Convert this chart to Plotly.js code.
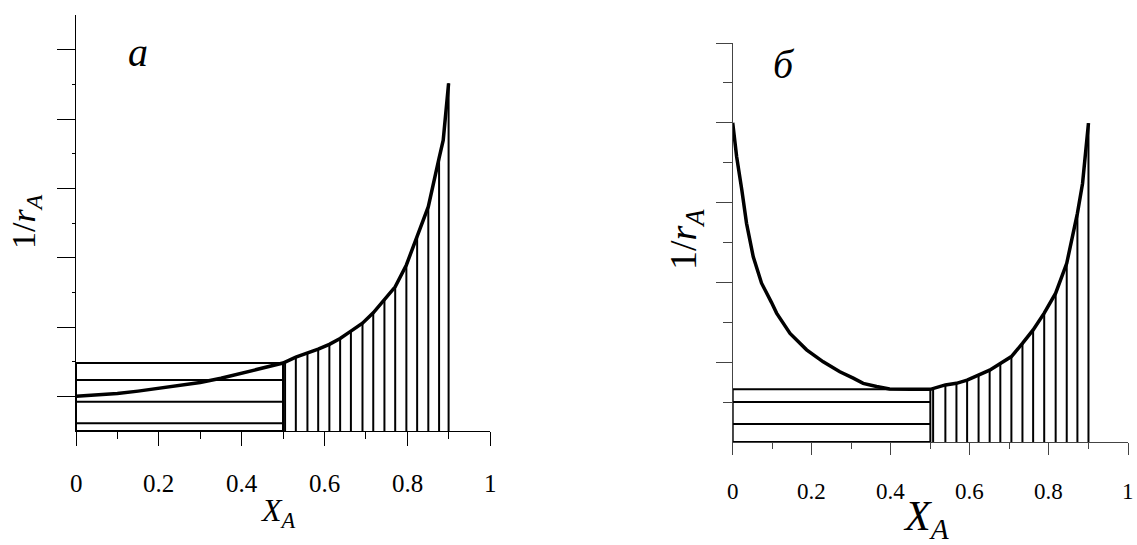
<!DOCTYPE html>
<html>
<head>
<meta charset="utf-8">
<script src="https://cdn.plot.ly/plotly-3.0.1.min.js"></script>
<style>html,body{margin:0;padding:0;background:#fff;}#chart{width:1137px;height:545px;}</style>
</head>
<body>
<div id="chart"></div>
<script>
// ---------- data ----------
const xTickVals = [0, 0.2, 0.4, 0.6, 0.8, 1];
const xTickText = ['0', '0.2', '0.4', '0.6', '0.8', '1'];
const xMinorVals = [0.1, 0.3, 0.5, 0.7, 0.9];

// panel а : 1/rA vs XA (curve)
const curveAX = [0, 0.05, 0.1, 0.15, 0.2, 0.25, 0.3, 0.35, 0.4, 0.45, 0.5,
                 0.531, 0.559, 0.585, 0.612, 0.638, 0.664, 0.692, 0.718, 0.745,
                 0.771, 0.798, 0.824, 0.851, 0.877, 0.887, 0.9];
const curveAY = [1.0, 1.03, 1.08, 1.15, 1.24, 1.32, 1.40, 1.52, 1.66, 1.81, 1.96,
                 2.13, 2.24, 2.36, 2.50, 2.67, 2.88, 3.11, 3.41, 3.78,
                 4.16, 4.79, 5.60, 6.47, 7.87, 8.39, 10.03];
// panel а : vertical hatch (plug flow area)
const hatchAX = [0.505, 0.531, 0.559, 0.585, 0.612, 0.638, 0.664, 0.692, 0.718, 0.745,
                 0.771, 0.798, 0.824, 0.851, 0.877, 0.9];
const hatchAY = [1.96, 2.13, 2.24, 2.36, 2.50, 2.67, 2.88, 3.11, 3.41, 3.78,
                 4.16, 4.79, 5.60, 6.47, 7.87, 10.03];
// panel а : rectangle (mixed flow area)
const rectAX = 0.5;
const rectATop = 1.96;
const rectALines = [0.22, 0.845, 1.47];

// panel б
const curveBX = [0, 0.010, 0.023, 0.035, 0.052, 0.073, 0.098, 0.111, 0.145, 0.187,
                 0.229, 0.271, 0.305, 0.330, 0.364, 0.397, 0.45, 0.5,
                 0.538, 0.566, 0.593, 0.622, 0.650, 0.677, 0.705, 0.733,
                 0.760, 0.788, 0.817, 0.845, 0.872, 0.885, 0.9];
const curveBY = [8.0, 7.15, 6.32, 5.48, 4.64, 3.98, 3.50, 3.23, 2.72, 2.31,
                 2.01, 1.76, 1.60, 1.47, 1.39, 1.33, 1.32, 1.32,
                 1.43, 1.47, 1.55, 1.68, 1.80, 1.97, 2.14, 2.47,
                 2.81, 3.23, 3.73, 4.48, 5.73, 6.48, 7.99];
const hatchBX = [0.507, 0.538, 0.566, 0.593, 0.622, 0.650, 0.677, 0.705, 0.733, 0.760,
                 0.788, 0.817, 0.845, 0.872, 0.9];
const hatchBY = [1.32, 1.43, 1.47, 1.55, 1.68, 1.80, 1.97, 2.14, 2.47, 2.81,
                 3.23, 3.73, 4.48, 5.73, 7.99];
const rectBX = 0.5;
const rectBTop = 1.32;
const rectBLines = [0.45, 1.0];

// ---------- helpers ----------
const W = 1137, H = 545;
const px = v => v / W;
const py = v => 1 - v / H;

function vLines(xs, ys) {
  const x = [], y = [];
  xs.forEach((v, i) => { x.push(v, v, null); y.push(0, ys[i], null); });
  return {x, y};
}
function hLines(x1, ys) {
  const x = [], y = [];
  ys.forEach(v => { x.push(0, x1, null); y.push(v, v, null); });
  return {x, y};
}
function rect(x1, top) {
  return {x: [0, x1, x1, 0, 0], y: [top, top, 0, 0, top]};
}

const traces = [];
function addPanel(xa, ya, cx, cy, hx, hy, rx, rtop, rlines) {
  const v = vLines(hx, hy);
  traces.push({type: 'scatter', mode: 'lines', x: v.x, y: v.y, xaxis: xa, yaxis: ya,
    line: {color: '#000', width: 2}, cliponaxis: false, hoverinfo: 'skip'});
  const h = hLines(rx, rlines);
  traces.push({type: 'scatter', mode: 'lines', x: h.x, y: h.y, xaxis: xa, yaxis: ya,
    line: {color: '#000', width: 2}, cliponaxis: false, hoverinfo: 'skip'});
  const r = rect(rx, rtop);
  traces.push({type: 'scatter', mode: 'lines', x: r.x, y: r.y, xaxis: xa, yaxis: ya,
    line: {color: '#000', width: 2}, cliponaxis: false, hoverinfo: 'skip'});
  traces.push({type: 'scatter', mode: 'lines', x: cx, y: cy, xaxis: xa, yaxis: ya,
    line: {color: '#000', width: 3.5}, cliponaxis: false, hoverinfo: 'skip'});
}
addPanel('x', 'y', curveAX, curveAY, hatchAX, hatchAY, rectAX, rectATop, rectALines);
addPanel('x2', 'y2', curveBX, curveBY, hatchBX, hatchBY, rectBX, rectBTop, rectBLines);

const serif = 'Liberation Serif';

function xAxis(domain, anchor, col, len, mlen) {
  return {
    domain, anchor, range: [0, 1], tickmode: 'array', tickvals: xTickVals, showticklabels: false,
    ticks: 'outside', ticklen: len, tickwidth: 1, tickcolor: col,
    showline: true, linecolor: col, linewidth: 1, showgrid: false, zeroline: false,
    minor: {tickmode: 'array', tickvals: xMinorVals, ticks: 'outside', ticklen: mlen, tickcolor: col, tickwidth: 1, showgrid: false},
    fixedrange: true
  };
}
function yAxis(domain, anchor, col, range, major, minor, len, mlen) {
  return {
    domain, anchor, range, tickmode: 'array', tickvals: major, showticklabels: false,
    ticks: 'outside', ticklen: len, tickwidth: 1, tickcolor: col,
    showline: true, linecolor: col, linewidth: 1, showgrid: false, zeroline: false,
    minor: {tickmode: 'array', tickvals: minor, ticks: 'outside', ticklen: mlen, tickcolor: col, tickwidth: 1, showgrid: false},
    fixedrange: true
  };
}

const annotations = [
  {text: '<i>X</i><sub><i>A</i></sub>', xref: 'paper', yref: 'paper', x: px(278), y: py(512),
   xanchor: 'center', yanchor: 'middle', showarrow: false, font: {family: serif, size: 32, color: '#000'}},
  {text: '<i>X</i><sub><i>A</i></sub>', xref: 'paper', yref: 'paper', x: px(926), y: py(519),
   xanchor: 'center', yanchor: 'middle', showarrow: false, font: {family: serif, size: 42, color: '#000'}},
  {text: '1/<i>r</i><sub><i>A</i></sub>', xref: 'paper', yref: 'paper', x: px(26), y: py(222),
   xanchor: 'center', yanchor: 'middle', textangle: -90, showarrow: false, font: {family: serif, size: 34, color: '#000'}},
  {text: '1/<i>r</i><sub><i>A</i></sub>', xref: 'paper', yref: 'paper', x: px(686), y: py(240),
   xanchor: 'center', yanchor: 'middle', textangle: -90, showarrow: false, font: {family: serif, size: 38, color: '#000'}},
  {text: '<i>а</i>', xref: 'paper', yref: 'paper', x: px(138), y: py(52),
   xanchor: 'center', yanchor: 'middle', showarrow: false, font: {family: serif, size: 40, color: '#000'}},
  {text: '<i>б</i>', xref: 'paper', yref: 'paper', x: px(784), y: py(64),
   xanchor: 'center', yanchor: 'middle', showarrow: false, font: {family: serif, size: 40, color: '#000'}}
];
// tick labels as text placed on the x axes' own scales
xTickVals.forEach((v, i) => {
  annotations.push({text: xTickText[i], xref: 'x', yref: 'paper', x: v, y: py(483),
    xanchor: 'center', yanchor: 'middle', showarrow: false, font: {family: serif, size: 25, color: '#000'}});
  annotations.push({text: xTickText[i], xref: 'x2', yref: 'paper', x: v, y: py(491),
    xanchor: 'center', yanchor: 'middle', showarrow: false, font: {family: serif, size: 23, color: '#000'}});
});

const layout = {
  width: W, height: H,
  margin: {l: 0, r: 0, t: 0, b: 0},
  font: {family: serif, color: '#000', size: 24},
  paper_bgcolor: '#fff', plot_bgcolor: 'rgba(0,0,0,0)',
  showlegend: false,
  xaxis: xAxis([px(76), px(490)], 'y', '#000', 14, 7),
  yaxis: yAxis([py(431), py(15)], 'x', '#000', [0, 12], [1, 3, 5, 7, 9, 11], [2, 4, 6, 8, 10], 18, 3),
  xaxis2: xAxis([px(732.7), px(1128)], 'y2', '#444', 12, 6),
  yaxis2: yAxis([py(442), py(43)], 'x2', '#444', [0, 10], [2, 4, 6, 8, 10], [1, 3, 5, 7, 9], 16, 9),
  annotations
};

Plotly.newPlot('chart', traces, layout, {staticPlot: true, displayModeBar: false});
</script>
</body>
</html>
